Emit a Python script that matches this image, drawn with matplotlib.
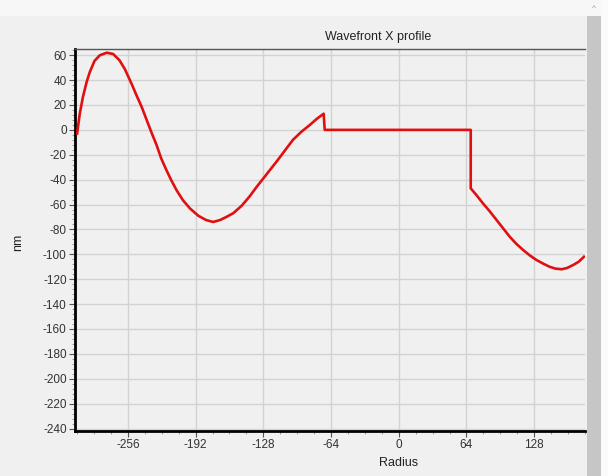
import numpy as np
import matplotlib.pyplot as plt
from matplotlib.patches import Rectangle
from matplotlib.ticker import MultipleLocator

# Wavefront X profile
radius = [-304, -301.5, -298.5, -295, -292, -287.5, -282.5, -276, -270, -264,
          -259, -252.5, -248, -243, -238.5, -234, -229, -224.5, -219.5, -215,
          -210, -204, -197.5, -189.5, -182, -175.5, -169, -163, -156.5, -148.5,
          -141, -134.5, -128, -122, -115.5, -108, -100, -92, -84, -78, -71,
          -70, 68, 68, 73.5, 79.5, 86, 92.5, 98.5, 105, 111, 117.5, 124, 130,
          136.5, 142.5, 148, 154, 159, 165, 170, 175]
wavefront = [-3, 13, 26.5, 38.5, 46.5, 55.5, 60, 62, 61, 56,
             49, 37, 28, 18.5, 8.5, -1.5, -12, -23, -32.5, -40.5,
             -48.5, -56.5, -63, -69, -72.5, -74, -72.5, -70, -67, -61,
             -53.5, -46, -39, -32.5, -25.5, -17, -8, -1.5, 4, 8.5, 13,
             0, 0, -47, -52.5, -59, -65.5, -72.5, -79, -86, -91.5, -96.5, -101, -104.5,
             -107.5, -110, -111.5, -112, -111, -108.5, -106, -102]

x_ticks = [-256, -192, -128, -64, 0, 64, 128]
y_ticks = list(range(-240, 61, 20))

bg = '#f0f0f0'
plt.rcParams['font.family'] = ['Liberation Sans', 'DejaVu Sans']
plt.rcParams['axes.unicode_minus'] = False

fig = plt.figure(figsize=(6.08, 4.76), dpi=100, facecolor=bg)
ax = fig.add_axes([75/608, 1-431/476, 510/608, 382/476], facecolor=bg)

ax.plot(radius, wavefront, color='#e01010', lw=1.9, solid_joinstyle='round', zorder=3)

ax.set_xlim(-306, 176)
ax.set_ylim(-242, 65)
ax.set_xticks(x_ticks)
ax.set_yticks(y_ticks)
ax.xaxis.set_minor_locator(MultipleLocator(16))
ax.yaxis.set_minor_locator(MultipleLocator(4))
ax.grid(True, which='major', color='#d2d2d2', lw=1)
ax.tick_params(which='major', length=4, width=0.8, color='#555555',
               labelsize=8.5, labelcolor='#333333', pad=2)
ax.tick_params(which='minor', length=2, width=0.6, color='#888888')

for s in ['left', 'bottom']:
    ax.spines[s].set_linewidth(2)
    ax.spines[s].set_color('black')
ax.spines['top'].set_linewidth(1)
ax.spines['top'].set_color('#555555')
ax.spines['right'].set_visible(False)

fig.text(378/608, 1-37/476, 'Wavefront X profile', ha='center', va='center',
         fontsize=9, color='#222222')
fig.text(399/608, 1-463/476, 'Radius', ha='center', va='center',
         fontsize=9, color='#222222')
fig.text(18/608, 1-242/476, 'nm', ha='center', va='center', rotation=90,
         fontsize=9, color='#222222')

# window chrome: top strip and scrollbar
fig.patches.append(Rectangle((0, 1-16/476), 1, 16/476, transform=fig.transFigure,
                             facecolor='#f7f7f7', edgecolor='none', zorder=0))
fig.patches.append(Rectangle((587/608, 0), 14/608, 1-16/476, transform=fig.transFigure,
                             facecolor='#c6c6c6', edgecolor='none'))
fig.patches.append(Rectangle((601/608, 0), 7/608, 1, transform=fig.transFigure,
                             facecolor='#fafafa', edgecolor='none'))
fig.text(594/608, 1-8/476, '^', ha='center', va='center', fontsize=6, color='#999999')

fig.savefig('out.png', dpi=100, facecolor=bg)
